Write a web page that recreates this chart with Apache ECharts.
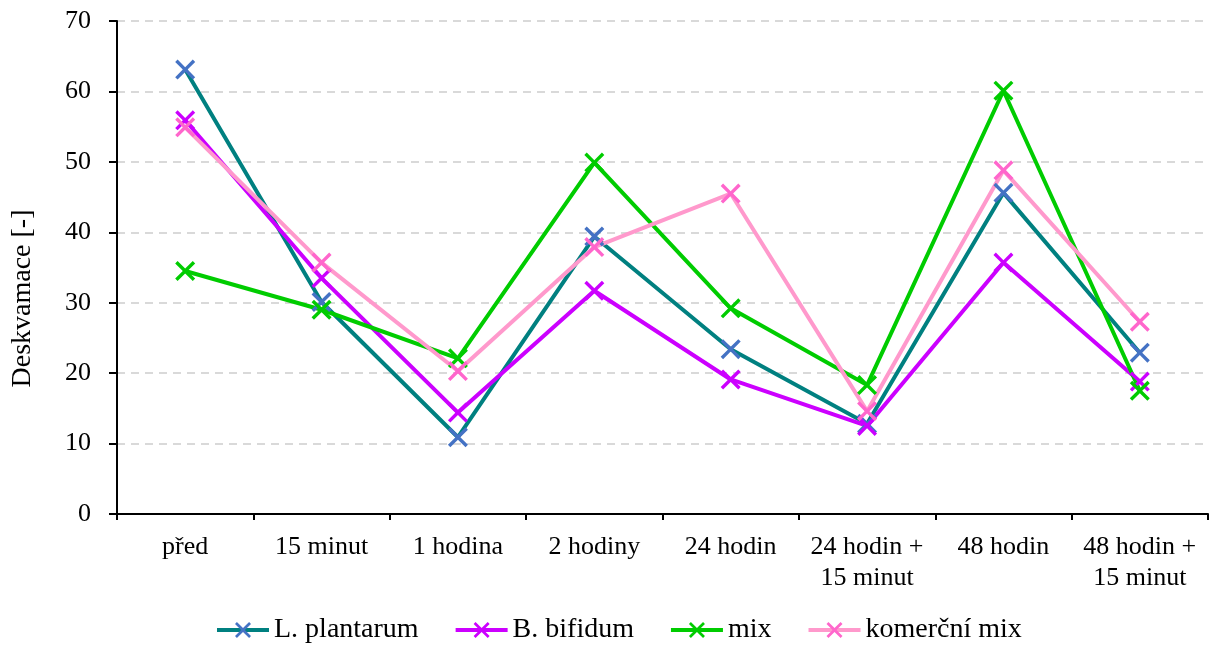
<!DOCTYPE html>
<html>
<head>
<meta charset="utf-8">
<script src="https://cdn.jsdelivr.net/npm/echarts@6/dist/echarts.min.js"></script>
<style>
  html, body { margin: 0; padding: 0; background: #fff; }
  #chart { width: 1211px; height: 648px; }
</style>
</head>
<body>
<div id="chart"></div>
<script>
// Time points after application
const categories = ['před', '15 minut', '1 hodina', '2 hodiny', '24 hodin',
  '24 hodin +\n15 minut', '48 hodin', '48 hodin +\n15 minut'];

// Desquamation values per preparation
const plantarum = [63.1, 30.1, 10.9, 39.4, 23.4, 12.8, 45.6, 22.9];
const bifidum   = [55.9, 33.5, 14.4, 31.7, 19.1, 12.5, 35.7, 18.8];
const mix       = [34.5, 29.0, 22.1, 49.9, 29.2, 18.3, 60.1, 17.5];
const komercni  = [54.9, 35.7, 20.3, 37.9, 45.5, 14.6, 48.8, 27.3];

const yTicks = [0, 10, 20, 30, 40, 50, 60, 70];

// X-shaped marker drawn as a filled outline
const crossSymbol = 'path://M0,1.2L1.2,0L5,3.8L8.8,0L10,1.2L6.2,5L10,8.8L8.8,10L5,6.2L1.2,10L0,8.8L3.8,5Z';
const font = '"Liberation Serif", "Times New Roman", serif';
const fs = 26;

function makeSeries(name, data, lineColor, markerColor) {
  return {
    name: name,
    type: 'line',
    data: data,
    symbol: crossSymbol,
    symbolSize: 20,
    showAllSymbol: true,
    lineStyle: { color: lineColor, width: 4 },
    itemStyle: { color: markerColor, borderWidth: 0 },
    emphasis: { disabled: true },
    z: 2
  };
}

const chart = echarts.init(document.getElementById('chart'), null, { renderer: 'canvas' });
chart.setOption({
  animation: false,
  backgroundColor: '#ffffff',
  textStyle: { fontFamily: font },
  grid: { left: 117, right: 3, top: 21, bottom: 134, containLabel: false },
  legend: {
    bottom: -1,
    left: 210,
    itemWidth: 52,
    itemHeight: 20,
    itemGap: 35,
    lineStyle: { width: 4 },
    textStyle: { fontFamily: font, fontSize: 28, color: '#000' },
    data: ['L. plantarum', 'B. bifidum', 'mix', 'komerční mix']
  },
  xAxis: {
    type: 'category',
    data: categories,
    boundaryGap: true,
    axisLine: { lineStyle: { color: '#000', width: 2 } },
    axisTick: { show: true, length: 6, lineStyle: { color: '#000', width: 2 } },
    axisLabel: {
      interval: 0, margin: 18, fontFamily: font, fontSize: fs, color: '#000',
      lineHeight: 31
    },
    splitLine: { show: false }
  },
  yAxis: {
    type: 'value',
    min: 0, max: 70, interval: 10,
    name: 'Deskvamace [-]',
    nameLocation: 'middle',
    nameGap: 80,
    nameRotate: 90,
    nameTextStyle: { fontFamily: font, fontSize: 28, color: '#000', padding: [0, 62, 0, 0] },
    axisLine: { show: true, lineStyle: { color: '#000', width: 2 } },
    axisTick: { show: true, length: 8, lineStyle: { color: '#000', width: 2 } },
    axisLabel: {
      margin: 26, fontFamily: font, fontSize: fs, color: '#000',
      formatter: function (v) { return yTicks.indexOf(v) >= 0 ? String(v) : ''; }
    },
    splitLine: { show: true, lineStyle: { color: '#D9D9D9', width: 2, type: [8, 6] } }
  },
  series: [
    makeSeries('L. plantarum', plantarum, '#008080', '#4472C4'),
    makeSeries('B. bifidum', bifidum, '#CC00FF', '#CC00FF'),
    makeSeries('mix', mix, '#00CC00', '#00CC00'),
    makeSeries('komerční mix', komercni, '#FF99CC', '#FF66CC')
  ]
});
</script>
</body>
</html>
